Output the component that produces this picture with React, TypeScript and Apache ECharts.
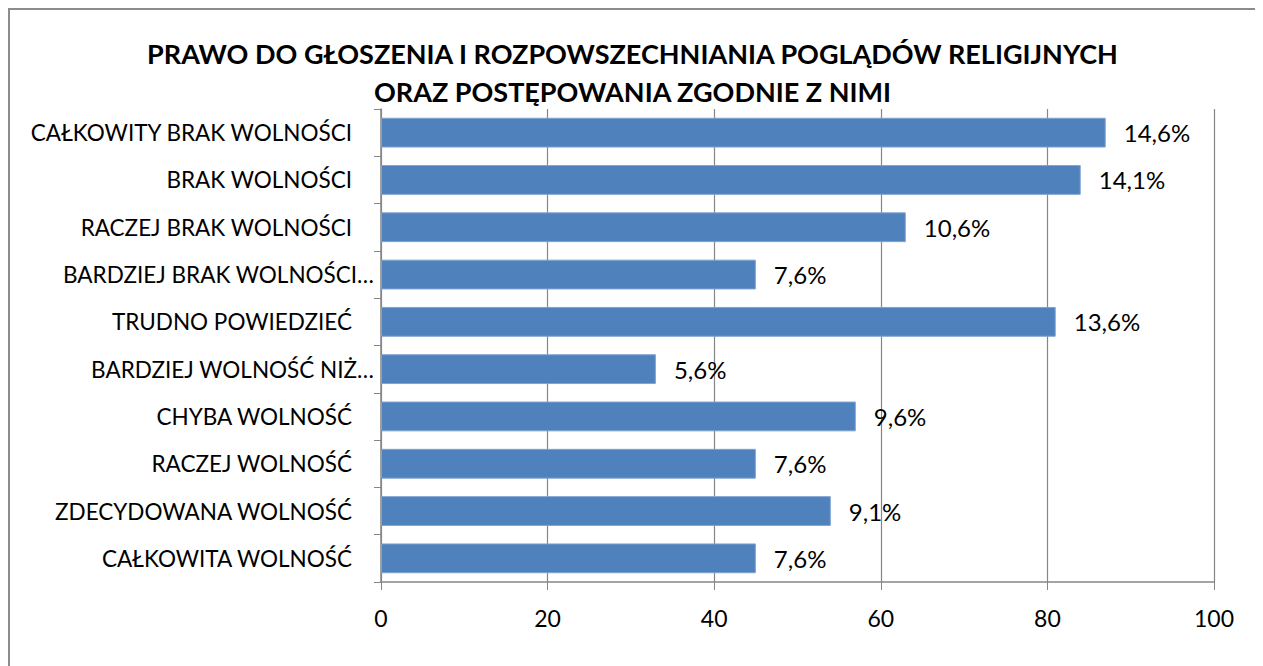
import React, { useEffect, useRef } from "react";
import * as echarts from "echarts";

const categories = [
  "CAŁKOWITY BRAK WOLNOŚCI",
  "BRAK WOLNOŚCI",
  "RACZEJ BRAK WOLNOŚCI",
  "BARDZIEJ BRAK WOLNOŚCI…",
  "TRUDNO POWIEDZIEĆ",
  "BARDZIEJ WOLNOŚĆ NIŻ…",
  "CHYBA WOLNOŚĆ",
  "RACZEJ WOLNOŚĆ",
  "ZDECYDOWANA WOLNOŚĆ",
  "CAŁKOWITA WOLNOŚĆ",
];
const counts = [87, 84, 63, 45, 81, 33, 57, 45, 54, 45];
const percentLabels = ["14,6%", "14,1%", "10,6%", "7,6%", "13,6%", "5,6%", "9,6%", "7,6%", "9,1%", "7,6%"];
const xTicks = [0, 20, 40, 60, 80, 100];
const titleLines = [
  "PRAWO DO GŁOSZENIA I ROZPOWSZECHNIANIA POGLĄDÓW RELIGIJNYCH",
  "ORAZ POSTĘPOWANIA ZGODNIE Z NIMI",
];

const FONT = "Lato, 'Open Sans', sans-serif";

export default function App() {
  const ref = useRef<HTMLDivElement>(null);
  useEffect(() => {
    if (!ref.current) return;
    const chart = echarts.init(ref.current, undefined, { renderer: "svg" });
    const cats = [...categories].reverse();
    const vals = [...counts].reverse();
    const labs = [...percentLabels].reverse();
    chart.setOption({
      animation: false,
      backgroundColor: "#ffffff",
      title: {
        text: titleLines.join("\n"),
        left: "center",
        top: 19,
        textStyle: {
          fontFamily: FONT,
          fontWeight: "bold",
          fontSize: 27,
          lineHeight: 38,
          color: "#000000",
        },
      },
      grid: { left: 371, right: 41, top: 99, bottom: 84, containLabel: false },
      xAxis: {
        type: "value",
        min: 0,
        max: 100,
        interval: 20,
        axisLine: { show: true, lineStyle: { color: "#868686", width: 1.5 } },
        axisTick: { show: true, length: 8, lineStyle: { color: "#868686" } },
        splitLine: { show: true, lineStyle: { color: "#868686", width: 1.2 } },
        axisLabel: {
          fontFamily: FONT,
          fontSize: 23,
          color: "#000",
          margin: 24,
          formatter: (v: number) => (xTicks.includes(v) ? String(v) : ""),
        },
      },
      yAxis: {
        type: "category",
        data: cats,
        axisLine: { show: true, lineStyle: { color: "#868686", width: 1.5 } },
        axisTick: { show: true, length: 7, lineStyle: { color: "#868686" } },
        axisLabel: {
          fontFamily: FONT,
          fontSize: 22.5,
          color: "#000",
          margin: 7,
          formatter: (v: string) => (v.endsWith("…") ? `{t|${v}}` : `{n|${v}}`),
          rich: {
            t: { fontFamily: FONT, fontSize: 22.5, color: "#000" },
            n: { fontFamily: FONT, fontSize: 22.5, color: "#000", padding: [0, 22, 0, 0] },
          },
        },
      },
      series: [
        {
          type: "bar",
          data: vals,
          barCategoryGap: "37%",
          itemStyle: { color: "#4F81BD", borderColor: "#7fa3d0", borderWidth: 1 },
          label: {
            show: true,
            position: "right",
            distance: 18,
            fontFamily: FONT,
            fontSize: 24,
            color: "#000",
            formatter: (p: any) => labs[p.dataIndex],
          },
        },
      ],
    });
    return () => chart.dispose();
  }, []);
  return (
    <div
      style={{
        width: 1249,
        height: 658,
        boxSizing: "border-box",
        borderTop: "2px solid #8c8c8c",
        borderLeft: "2px solid #8c8c8c",
        borderRight: "2px solid #8c8c8c",
        background: "#fff",
      }}
    >
      <div ref={ref} style={{ width: 1245, height: 656 }} />
    </div>
  );
}
